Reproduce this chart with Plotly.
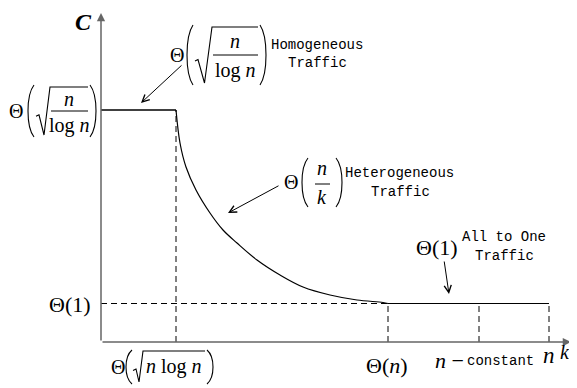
import plotly.graph_objects as go

# positions along k, measured from the origin of the sketch
k_ticks = [75, 287, 378, 448]  # Θ(√(n log n)), Θ(n), n − constant, n
c_top = 232  # Θ(√(n / log n))
c_one = 38.5  # Θ(1)

# Θ(n/k) part of the capacity curve
curve_k = [75, 79, 85, 95, 109, 122, 136, 156, 179, 202, 229, 256, 282, 287]
curve_c = [232, 199, 175, 152, 129, 112, 99, 82, 67, 55, 47, 42, 39.5, 38.5]

k_max = 470  # tip of the k axis
c_max = 329  # tip of the C axis

SERIF = "Liberation Serif"
MONO = "Liberation Mono"

# page pixel position of the origin (the page body adds an 8px margin)
OX, OY = 101, 342
PAD = 8
W, H = 577 - PAD, 388 - PAD

fig = go.Figure()

# solid parts of the curve
fig.add_trace(go.Scatter(x=[0, k_ticks[0]], y=[c_top, c_top], mode="lines",
                         line=dict(color="black", width=1.3)))
fig.add_trace(go.Scatter(x=curve_k, y=curve_c, mode="lines",
                         line=dict(color="black", width=1.2, shape="spline", smoothing=1)))
fig.add_trace(go.Scatter(x=[k_ticks[1], k_ticks[3]], y=[c_one, c_one], mode="lines",
                         line=dict(color="black", width=1.2)))

# dashed guides
dx = [0, k_ticks[1], None, k_ticks[0], k_ticks[0]]
dy = [c_one, c_one, None, 0, c_top]
for k in k_ticks[1:]:
    dx += [None, k, k]
    dy += [None, 0, c_one]
fig.add_trace(go.Scatter(x=dx, y=dy, mode="lines",
                         line=dict(color="black", width=1, dash="6px,4px")))


def P(x, y):
    return f"{x - OX:.2f},{OY - y:.2f}"


def lbl(x, y, s, size=20, family=SERIF, xanchor="center", yanchor="middle"):
    fig.add_annotation(x=x - OX, y=OY - y, text=s, showarrow=False,
                       font=dict(family=family, size=size, color="black"),
                       xanchor=xanchor, yanchor=yanchor, borderpad=0)


def paren(x_in, x_out, yt, yb):
    c = (4 * x_out - x_in) / 3
    h = yb - yt
    d = f"M{P(x_in, yt)} C{P(c, yt + 0.2 * h)} {P(c, yb - 0.2 * h)} {P(x_in, yb)}"
    fig.add_shape(type="path", path=d, xref="x", yref="y",
                  line=dict(color="black", width=1.1))


def radical(xs, xv, xe, yt, yb):
    ym = yt + 0.58 * (yb - yt)
    d = (f"M{P(xs, ym + 1.5)} L{P(xs + 3, ym)} L{P(xs + 0.5 * (xv - xs) + 1, yb)} "
         f"L{P(xv, yt)} L{P(xe, yt)}")
    fig.add_shape(type="path", path=d, xref="x", yref="y",
                  line=dict(color="black", width=1.1))


def hbar(x0, x1, y):
    fig.add_shape(type="line", x0=x0 - OX, x1=x1 - OX, y0=OY - y, y1=OY - y,
                  xref="x", yref="y", line=dict(color="black", width=1))


def sqrt_frac(xt, yc, x_rad, x_vin, x_end, half_h, dy_num, dy_den):
    # Θ( √(n / log n) )
    lbl(xt, yc, "Θ")
    paren(x_rad - 2, x_rad - 8, yc - half_h, yc + half_h)
    radical(x_rad, x_vin, x_end, yc - half_h + 2, yc + half_h - 2)
    xm = (x_vin + x_end) / 2
    lbl(xm, yc + dy_num, "<i>n</i>")
    hbar(x_vin + 1, x_end, yc)
    lbl(xm, yc + dy_den, "log <i>n</i>")
    paren(x_end + 2, x_end + 8, yc - half_h, yc + half_h)


def arrow(x0, y0, x1, y1, head=5, size=1.4, width=1.0, color="black"):
    fig.add_annotation(x=x1 - OX, y=OY - y1, ax=x0 - OX, ay=OY - y0,
                       xref="x", yref="y", axref="x", ayref="y", text="",
                       showarrow=True, arrowhead=head, arrowsize=size,
                       arrowwidth=width, arrowcolor=color, standoff=0)


# axes
fig.add_annotation(x=k_max, y=0, ax=0, ay=0, xref="x", yref="y", axref="x", ayref="y",
                   text="", showarrow=True, arrowhead=2, arrowsize=1.1,
                   arrowwidth=1.5, arrowcolor="#666")
fig.add_annotation(x=0, y=c_max, ax=0, ay=0, xref="x", yref="y", axref="x", ayref="y",
                   text="", showarrow=True, arrowhead=2, arrowsize=1.1,
                   arrowwidth=1.5, arrowcolor="#666")
lbl(83, 8, "<b><i>C</i></b>", size=24, yanchor="top")
lbl(565, 352, "<i>k</i>", size=20)

# C axis labels
sqrt_frac(16, 111, 36, 50, 88, 26, -12, 14)
lbl(70, 304, "Θ(1)", size=22)

# k axis labels
lbl(118, 367, "Θ")
paren(132, 126, 350, 384)
radical(133, 143, 205, 351, 382)
lbl(174, 366, "<i>n</i> log <i>n</i>")
paren(207, 213, 350, 384)
lbl(387, 365, "Θ(<i>n</i>)", size=22)
lbl(449, 360, "<i>n</i> −", size=22)
lbl(500, 361, "constant", size=14, family=MONO)
lbl(549, 355, "<i>n</i>", size=23)

# homogeneous traffic
sqrt_frac(177, 55, 195, 212, 258, 30, -14, 15)
lbl(317, 45, "Homogeneous", size=14, family=MONO)
lbl(317, 63, "Traffic", size=14, family=MONO)
arrow(183, 64, 141, 103)

# heterogeneous traffic
lbl(291, 182, "Θ")
paren(308, 302, 158, 207)
lbl(322, 168, "<i>n</i>")
hbar(315, 330, 184)
lbl(322, 197, "<i>k</i>")
paren(336, 342, 158, 207)
lbl(399, 173, "Heterogeneous", size=14, family=MONO)
lbl(400, 192, "Traffic", size=14, family=MONO)
arrow(280, 185, 228, 213)

# all to one traffic
lbl(437, 247, "Θ(1)", size=22)
lbl(504, 237, "All to One", size=14, family=MONO)
lbl(504, 256, "Traffic", size=14, family=MONO)
arrow(444, 260, 449, 294)

fig.update_layout(
    width=W,
    height=H,
    margin=dict(l=0, r=0, t=0, b=0),
    showlegend=False,
    paper_bgcolor="white",
    plot_bgcolor="white",
    xaxis=dict(range=[PAD - OX, PAD - OX + W], visible=False, fixedrange=True),
    yaxis=dict(range=[OY - PAD - H, OY - PAD], visible=False, fixedrange=True),
)

fig.write_html("out.html")
